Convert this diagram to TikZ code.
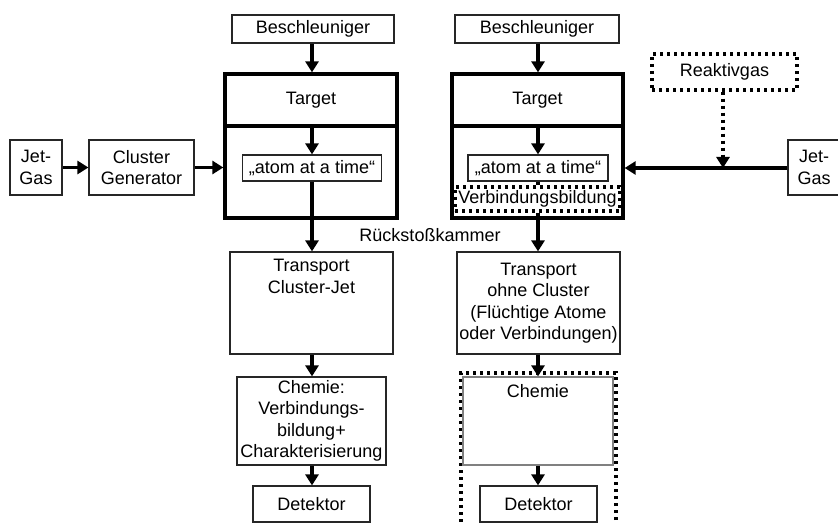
\documentclass[tikz,border=0pt]{standalone}
\usepackage{fontspec}
\setmainfont{Liberation Sans}
\usetikzlibrary{arrows.meta}
\begin{document}
\begin{tikzpicture}[x=1pt,y=-1pt,
  font=\fontsize{18}{21.5}\selectfont,
  box/.style={draw=black!85,line width=1.2pt,align=center,inner sep=0pt},
  thickbox/.style={draw=black,line width=3.3pt,inner sep=0pt},
  dotbox/.style={draw=black,line width=3.2pt,dash pattern=on 3pt off 4pt,align=center,inner sep=0pt},
  arr/.style={line width=3.3pt,-{Triangle[length=11pt,width=13pt]}},
  dotarr/.style={line width=3.2pt,dash pattern=on 3pt off 4pt,-{Triangle[length=11pt,width=13pt]}}]
\useasboundingbox (0,0) rectangle (838,524);
% ---------- left column ----------
\node[box,minimum width=162pt,minimum height=28pt] (b1) at (313,29) {Beschleuniger};
\node[thickbox,minimum width=172pt,minimum height=52pt] (t1) at (311,100) {Target};
\node[thickbox,minimum width=172pt,minimum height=92pt] (k1) at (311,172) {};
\node[box,minimum width=139pt,minimum height=26pt] (a1) at (312,168) {„atom at a time“};
\node[box,minimum width=52pt,minimum height=55pt] (j1) at (36,167.5) {Jet-\\Gas};
\node[box,minimum width=105pt,minimum height=55pt] (cg) at (141.5,167.5) {Cluster\\Generator};
\node[box,minimum width=163pt,minimum height=102pt] (tr1) at (311.5,303) {};
\node[align=center,anchor=north,inner sep=0pt] (tr1t) at (311.5,259) {Transport\\Cluster-Jet};
\node[box,minimum width=149pt,minimum height=88pt] (c1) at (311.5,421) {Chemie:\\Verbindungs-\\bildung+\\Charakterisierung};
\node[box,minimum width=117pt,minimum height=36pt] (d1) at (311.5,504) {Detektor};
\node[inner sep=0pt] (rk) at (430,235) {Rückstoßkammer};
% ---------- right column ----------
\node[box,minimum width=164pt,minimum height=28pt] (b2) at (537,29) {Beschleuniger};
\node[thickbox,minimum width=171pt,minimum height=52pt] (t2) at (537.5,100) {Target};
\node[thickbox,minimum width=171pt,minimum height=92pt] (k2) at (537.5,172) {};
\node[box,minimum width=140pt,minimum height=26pt] (a2) at (538,168) {„atom at a time“};
\node[dotbox,minimum width=165pt,minimum height=24pt] (v) at (537.5,199) {Verbindungsbildung};
\node[dotbox,minimum width=145pt,minimum height=36pt] (rg) at (724.5,72) {Reaktivgas};
\node[box,minimum width=52pt,minimum height=55pt] (j2) at (814,167.5) {Jet-\\Gas};
\node[box,minimum width=163pt,minimum height=102pt] (tr2) at (538.5,303) {Transport\\ohne Cluster\\(Flüchtige Atome\\oder Verbindungen)};
\node[dotbox,minimum width=155pt,minimum height=160pt] (o2) at (538.5,453) {};
\node[draw=black!50,line width=1.2pt,inner sep=0pt,minimum width=150pt,minimum height=88pt] (c2) at (538,421) {};
\node[inner sep=0pt,anchor=north] (c2t) at (538,384) {Chemie};
\node[box,minimum width=117pt,minimum height=36pt] (d2) at (538.5,504) {Detektor};
\coordinate (m) at (723,168);
% ---------- connectors left ----------
\draw[arr] (b1.south -| 312,0) -- (t1.north -| 312,0);
\draw[arr] (t1.south -| 312,0) -- (a1.north -| 312,0);
\draw[arr] (a1.south -| 312,0) -- (tr1.north -| 312,0);
\draw[arr] (j1.east) -- (cg.west);
\draw[arr] (cg.east) -- (k1.west |- cg.east);
\draw[arr] (tr1.south -| 312,0) -- (c1.north -| 312,0);
\draw[arr] (c1.south -| 312,0) -- (d1.north -| 312,0);
% ---------- connectors right ----------
\draw[arr] (b2.south -| 538,0) -- (t2.north -| 538,0);
\draw[arr] (t2.south -| 538,0) -- (a2.north -| 538,0);
\draw[line width=3.3pt] (a2.south -| 538,0) -- (v.north -| 538,0);
\draw[arr] (v.south -| 538,0) -- (tr2.north -| 538,0);
\draw[arr] (j2.west |- m) -- (k2.east |- m);
\draw[dotarr] (rg.south -| m) -- (m);
\draw[arr] (tr2.south -| 538,0) -- (c2.north -| 538,0);
\draw[arr] (c2.south -| 538,0) -- (d2.north -| 538,0);
\end{tikzpicture}
\end{document}
